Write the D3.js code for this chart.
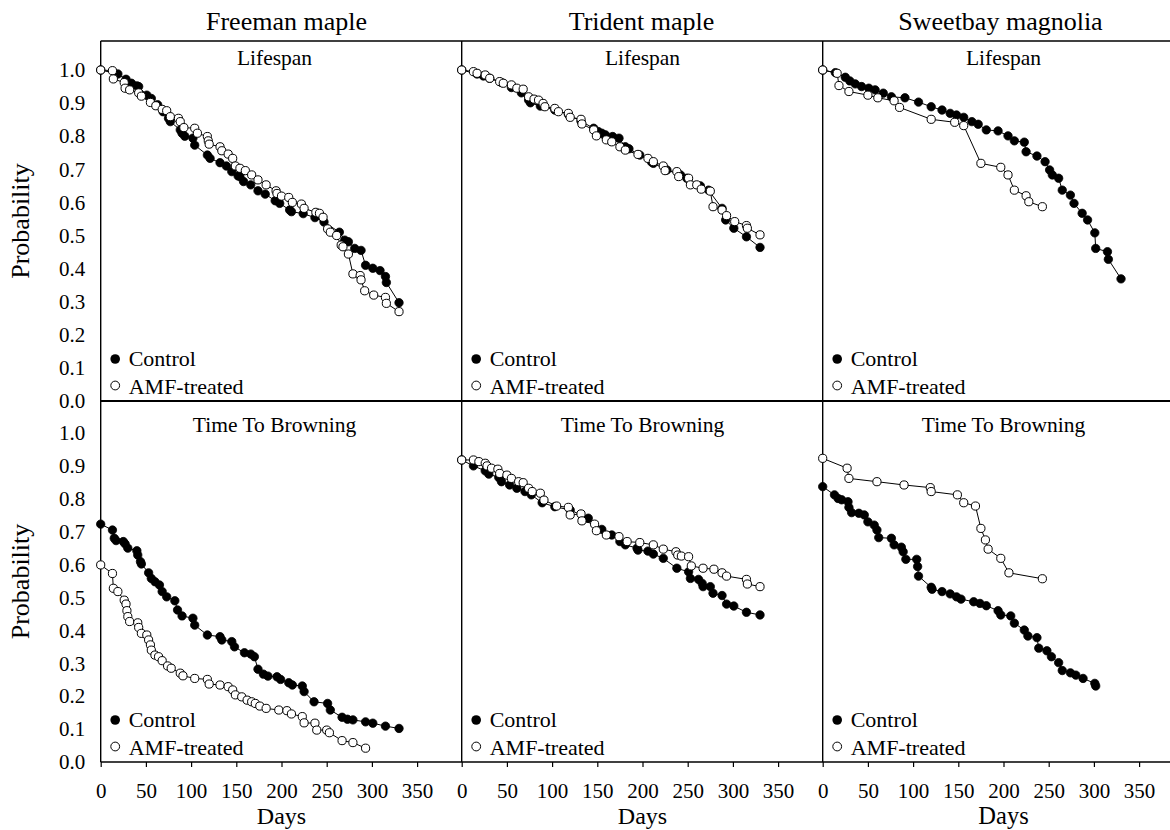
<!DOCTYPE html>
<html>
<head>
<meta charset="utf-8">
<script src="https://cdn.jsdelivr.net/npm/d3@7"></script>
<style>
  html, body { margin: 0; padding: 0; background: #fff; }
  svg { display: block; }
  text { font-family: "Liberation Serif", "Times New Roman", serif; fill: #000; }
</style>
</head>
<body>
<svg id="chart" width="1170" height="830"></svg>
<script>
// ---------------- DATA ----------------
const speciesTitles = ["Freeman maple", "Trident maple", "Sweetbay magnolia"];
const rowTitles = ["Lifespan", "Time To Browning"];
const seriesNames = ["Control", "AMF-treated"];
const xTicks = [0, 50, 100, 150, 200, 250, 300, 350];
const yTicks = [0, 0.1, 0.2, 0.3, 0.4, 0.5, 0.6, 0.7, 0.8, 0.9, 1.0];
const xLabel = "Days";
const yLabel = "Probability";

// [days, probability]
const freemanLifeControl = [[0,1.0],[19,0.988],[28,0.972],[34,0.960],[40,0.952],[42,0.950],[51,0.924],[56,0.914],[63,0.895],[69,0.874],[75,0.854],[77,0.844],[88,0.819],[90,0.809],[93,0.800],[102,0.794],[104,0.773],[118,0.743],[121,0.733],[132,0.720],[139,0.710],[145,0.693],[152,0.680],[154,0.678],[158,0.663],[166,0.653],[174,0.635],[182,0.625],[193,0.605],[198,0.597],[209,0.577],[211,0.572],[224,0.566],[237,0.554],[247,0.541],[264,0.510],[270,0.486],[274,0.481],[281,0.461],[288,0.455],[293,0.410],[301,0.401],[309,0.394],[315,0.376],[316,0.358],[330,0.297]];
const freemanLifeAMF = [[0,1.0],[13,0.998],[14,0.973],[26,0.962],[27,0.945],[32,0.940],[42,0.931],[45,0.921],[55,0.902],[61,0.892],[68,0.881],[73,0.877],[77,0.859],[86,0.854],[88,0.844],[92,0.826],[104,0.824],[107,0.809],[118,0.799],[119,0.786],[120,0.776],[132,0.768],[134,0.756],[141,0.746],[146,0.733],[149,0.710],[154,0.703],[160,0.696],[167,0.683],[174,0.668],[183,0.653],[194,0.635],[195,0.627],[200,0.619],[208,0.615],[212,0.600],[222,0.595],[225,0.582],[238,0.570],[242,0.567],[246,0.555],[251,0.520],[254,0.510],[261,0.500],[266,0.471],[268,0.466],[274,0.444],[279,0.384],[287,0.379],[288,0.366],[292,0.333],[302,0.320],[315,0.313],[316,0.295],[330,0.270]];

const tridentLifeControl = [[0,1.0],[17,0.988],[24,0.982],[31,0.975],[44,0.962],[55,0.947],[66,0.931],[74,0.909],[76,0.901],[87,0.891],[103,0.879],[118,0.866],[132,0.845],[146,0.824],[151,0.814],[155,0.809],[159,0.804],[167,0.799],[174,0.794],[181,0.768],[185,0.762],[197,0.743],[210,0.722],[212,0.718],[227,0.698],[242,0.683],[249,0.673],[264,0.650],[273,0.637],[288,0.582],[292,0.547],[301,0.522],[315,0.496],[330,0.464]];
const tridentLifeAMF = [[0,1.0],[13,0.995],[17,0.990],[26,0.985],[31,0.975],[42,0.965],[46,0.960],[55,0.955],[61,0.945],[68,0.942],[74,0.919],[80,0.912],[85,0.909],[90,0.899],[92,0.889],[103,0.884],[107,0.874],[118,0.869],[120,0.857],[132,0.851],[133,0.837],[146,0.819],[149,0.801],[160,0.789],[166,0.783],[175,0.768],[181,0.758],[195,0.745],[206,0.733],[212,0.723],[223,0.710],[225,0.696],[238,0.693],[240,0.678],[251,0.673],[253,0.653],[260,0.653],[265,0.640],[275,0.634],[278,0.587],[288,0.577],[293,0.560],[302,0.542],[315,0.530],[316,0.522],[330,0.502]];

const sweetbayLifeControl = [[0,1.0],[14,0.992],[25,0.978],[30,0.967],[36,0.958],[43,0.950],[51,0.945],[58,0.940],[67,0.930],[76,0.919],[91,0.916],[106,0.903],[120,0.889],[132,0.879],[141,0.869],[148,0.864],[156,0.857],[165,0.844],[172,0.836],[181,0.819],[194,0.816],[205,0.801],[212,0.786],[223,0.782],[225,0.753],[237,0.740],[246,0.723],[251,0.698],[254,0.683],[261,0.673],[265,0.637],[274,0.622],[278,0.597],[287,0.567],[293,0.547],[301,0.508],[302,0.461],[315,0.451],[316,0.428],[330,0.369]];
const sweetbayLifeAMF = [[0,1.0],[16,0.990],[18,0.953],[29,0.935],[50,0.924],[61,0.916],[79,0.907],[85,0.887],[120,0.851],[146,0.842],[156,0.832],[175,0.718],[197,0.706],[205,0.683],[212,0.637],[225,0.620],[228,0.602],[243,0.587]];

const freemanBrownControl = [[0,0.723],[13,0.705],[15,0.680],[17,0.673],[25,0.670],[27,0.663],[30,0.650],[40,0.642],[41,0.629],[44,0.609],[45,0.602],[53,0.575],[56,0.558],[60,0.548],[65,0.538],[68,0.518],[73,0.502],[82,0.490],[85,0.462],[90,0.444],[102,0.437],[104,0.416],[118,0.386],[132,0.381],[134,0.371],[145,0.366],[148,0.350],[159,0.332],[166,0.328],[170,0.320],[174,0.282],[180,0.267],[185,0.261],[195,0.259],[199,0.251],[208,0.241],[212,0.234],[223,0.231],[225,0.214],[236,0.183],[251,0.178],[254,0.158],[267,0.136],[273,0.130],[279,0.128],[293,0.122],[301,0.118],[315,0.109],[330,0.102]];
const freemanBrownAMF = [[0,0.599],[13,0.573],[14,0.528],[19,0.518],[26,0.492],[28,0.480],[29,0.460],[30,0.442],[32,0.427],[41,0.423],[42,0.409],[45,0.391],[51,0.386],[53,0.371],[55,0.356],[56,0.340],[60,0.325],[64,0.320],[68,0.308],[74,0.292],[78,0.285],[88,0.270],[91,0.262],[104,0.254],[118,0.251],[120,0.237],[132,0.234],[141,0.229],[146,0.219],[149,0.204],[156,0.198],[162,0.188],[167,0.183],[171,0.178],[176,0.170],[183,0.163],[197,0.158],[206,0.156],[211,0.146],[223,0.138],[225,0.119],[237,0.118],[239,0.097],[250,0.097],[253,0.089],[267,0.065],[279,0.059],[293,0.042]];

const tridentBrownControl = [[0,0.918],[13,0.900],[26,0.885],[30,0.875],[41,0.865],[44,0.852],[53,0.842],[61,0.832],[70,0.822],[77,0.812],[89,0.788],[103,0.776],[120,0.766],[140,0.741],[155,0.707],[166,0.690],[175,0.670],[181,0.660],[194,0.650],[195,0.644],[206,0.641],[212,0.632],[223,0.619],[238,0.589],[251,0.578],[253,0.558],[262,0.555],[266,0.543],[267,0.533],[275,0.533],[278,0.513],[288,0.506],[293,0.480],[301,0.474],[315,0.455],[330,0.447]];
const tridentBrownAMF = [[0,0.918],[13,0.918],[19,0.913],[26,0.908],[28,0.900],[33,0.893],[40,0.890],[42,0.877],[50,0.872],[55,0.862],[63,0.852],[68,0.849],[74,0.832],[78,0.822],[87,0.817],[91,0.796],[105,0.778],[118,0.774],[120,0.751],[132,0.754],[133,0.733],[147,0.723],[149,0.703],[160,0.690],[174,0.685],[183,0.670],[197,0.667],[212,0.660],[223,0.647],[237,0.639],[239,0.629],[243,0.626],[251,0.624],[254,0.596],[267,0.589],[279,0.586],[288,0.575],[293,0.565],[315,0.555],[316,0.541],[330,0.533]];

const sweetbayBrownControl = [[0,0.837],[13,0.812],[17,0.801],[21,0.797],[28,0.791],[29,0.774],[32,0.758],[40,0.756],[46,0.751],[50,0.730],[57,0.720],[60,0.705],[62,0.682],[76,0.680],[79,0.660],[87,0.653],[89,0.639],[92,0.616],[104,0.616],[105,0.594],[106,0.565],[120,0.531],[121,0.525],[132,0.518],[141,0.511],[148,0.502],[153,0.495],[167,0.487],[174,0.482],[181,0.475],[194,0.460],[197,0.447],[208,0.444],[212,0.422],[223,0.401],[227,0.383],[237,0.378],[239,0.346],[248,0.338],[253,0.320],[261,0.302],[265,0.278],[274,0.271],[280,0.264],[288,0.254],[301,0.239],[302,0.231]];
const sweetbayBrownAMF = [[0,0.923],[27,0.893],[29,0.862],[60,0.852],[90,0.842],[119,0.834],[120,0.822],[149,0.812],[156,0.788],[169,0.778],[175,0.710],[180,0.675],[183,0.647],[197,0.619],[206,0.575],[243,0.557]];

// ---------------- LAYOUT ----------------
const svg = d3.select("#chart");
const W = 1170, H = 830;
const colLeft = [100.7, 461.7, 822.7];
const panelW = 361.6;
const rows = [
  { top: 41, bottom: 401, yTop: 70, subBase: 65 },
  { top: 401, bottom: 762, yTop: 433, subBase: 432 }
];
const titleOffset = [5, -1, -3];
const subOffset = [-7, 0, 0];
const daysSize = [24, 24, 24.5];
const daysBase = [824, 824, 824];

const panels = [
  { col: 0, row: 0, c: freemanLifeControl, a: freemanLifeAMF },
  { col: 1, row: 0, c: tridentLifeControl, a: tridentLifeAMF },
  { col: 2, row: 0, c: sweetbayLifeControl, a: sweetbayLifeAMF },
  { col: 0, row: 1, c: freemanBrownControl, a: freemanBrownAMF },
  { col: 1, row: 1, c: tridentBrownControl, a: tridentBrownAMF },
  { col: 2, row: 1, c: sweetbayBrownControl, a: sweetbayBrownAMF }
];

const xScales = colLeft.map(x0 => d3.scaleLinear().domain([0, 400]).range([x0, x0 + panelW]));
const yScales = rows.map(r => d3.scaleLinear().domain([0, 1]).range([r.bottom, r.yTop]));

// Frame
const frame = svg.append("g").attr("stroke", "#000").attr("fill", "none");
frame.append("line").attr("x1", colLeft[0]).attr("x2", W).attr("y1", 41).attr("y2", 41).attr("stroke-width", 1.4);
frame.append("line").attr("x1", colLeft[0]).attr("x2", W).attr("y1", 401).attr("y2", 401).attr("stroke-width", 2);
frame.append("line").attr("x1", colLeft[0]).attr("x2", W).attr("y1", 762).attr("y2", 762).attr("stroke-width", 1.4);
colLeft.forEach(x => {
  frame.append("line").attr("x1", x).attr("x2", x).attr("y1", 41).attr("y2", 762).attr("stroke-width", 1.4);
});

// Column titles
speciesTitles.forEach((t, i) => {
  const xs = xScales[i];
  svg.append("text").attr("x", (xs.range()[0] + xs.range()[1]) / 2 + titleOffset[i]).attr("y", 30)
    .attr("text-anchor", "middle").attr("font-size", 26).text(t);
});

// Y axes
rows.forEach((r, ri) => {
  const ax = d3.axisLeft(yScales[ri]).tickValues(yTicks).tickFormat(d3.format(".1f")).tickSize(0).tickPadding(15.5);
  const g = svg.append("g").attr("transform", `translate(${colLeft[0]},0)`).call(ax);
  g.attr("font-family", null);
  g.select(".domain").remove();
  g.selectAll("text").attr("font-size", 21);
  svg.append("text")
    .attr("transform", `translate(29,${(r.top + r.bottom) / 2}) rotate(-90)`)
    .attr("text-anchor", "middle").attr("font-size", 26).text(yLabel);
});

// X axes
xScales.forEach((xs, i) => {
  const ax = d3.axisBottom(xs).tickValues(xTicks).tickSize(5).tickPadding(16);
  const g = svg.append("g").attr("transform", `translate(0,762)`).call(ax);
  g.attr("font-family", null);
  g.select(".domain").remove();
  g.selectAll("line").attr("stroke-width", 1.2);
  g.selectAll("text").attr("font-size", 21);
  svg.append("text").attr("x", (xs.range()[0] + xs.range()[1]) / 2).attr("y", daysBase[i])
    .attr("text-anchor", "middle").attr("font-size", daysSize[i]).text(xLabel);
});

// Panels
panels.forEach(p => {
  const x = xScales[p.col], y = yScales[p.row], r = rows[p.row];
  const g = svg.append("g");
  const line = d3.line().x(d => x(d[0])).y(d => y(d[1]));

  g.append("text").attr("x", (x.range()[0] + x.range()[1]) / 2 + subOffset[p.col]).attr("y", r.subBase)
    .attr("text-anchor", "middle").attr("font-size", 21.5).text(rowTitles[p.row]);

  g.append("path").datum(p.c).attr("d", line).attr("fill", "none").attr("stroke", "#000").attr("stroke-width", 1);
  g.selectAll("circle.c").data(p.c).enter().append("circle").attr("class", "c")
    .attr("cx", d => x(d[0])).attr("cy", d => y(d[1])).attr("r", 4.2)
    .attr("fill", "#000").attr("stroke", "#000").attr("stroke-width", 0.8);

  g.append("path").datum(p.a).attr("d", line).attr("fill", "none").attr("stroke", "#000").attr("stroke-width", 1);
  g.selectAll("circle.a").data(p.a).enter().append("circle").attr("class", "a")
    .attr("cx", d => x(d[0])).attr("cy", d => y(d[1])).attr("r", 4.1)
    .attr("fill", "#fff").attr("stroke", "#000").attr("stroke-width", 1);

  const x0 = x.range()[0];
  const b1 = r.bottom - 35, b2 = r.bottom - 7.5;
  g.append("circle").attr("cx", x0 + 14.5).attr("cy", b1 - 7).attr("r", 4.8).attr("fill", "#000");
  g.append("text").attr("x", x0 + 28).attr("y", b1).attr("font-size", 22).text(seriesNames[0]);
  g.append("circle").attr("cx", x0 + 14.5).attr("cy", b2 - 8).attr("r", 4.4).attr("fill", "#fff").attr("stroke", "#000").attr("stroke-width", 1);
  g.append("text").attr("x", x0 + 28).attr("y", b2).attr("font-size", 22).text(seriesNames[1]);
});
</script>
</body>
</html>
